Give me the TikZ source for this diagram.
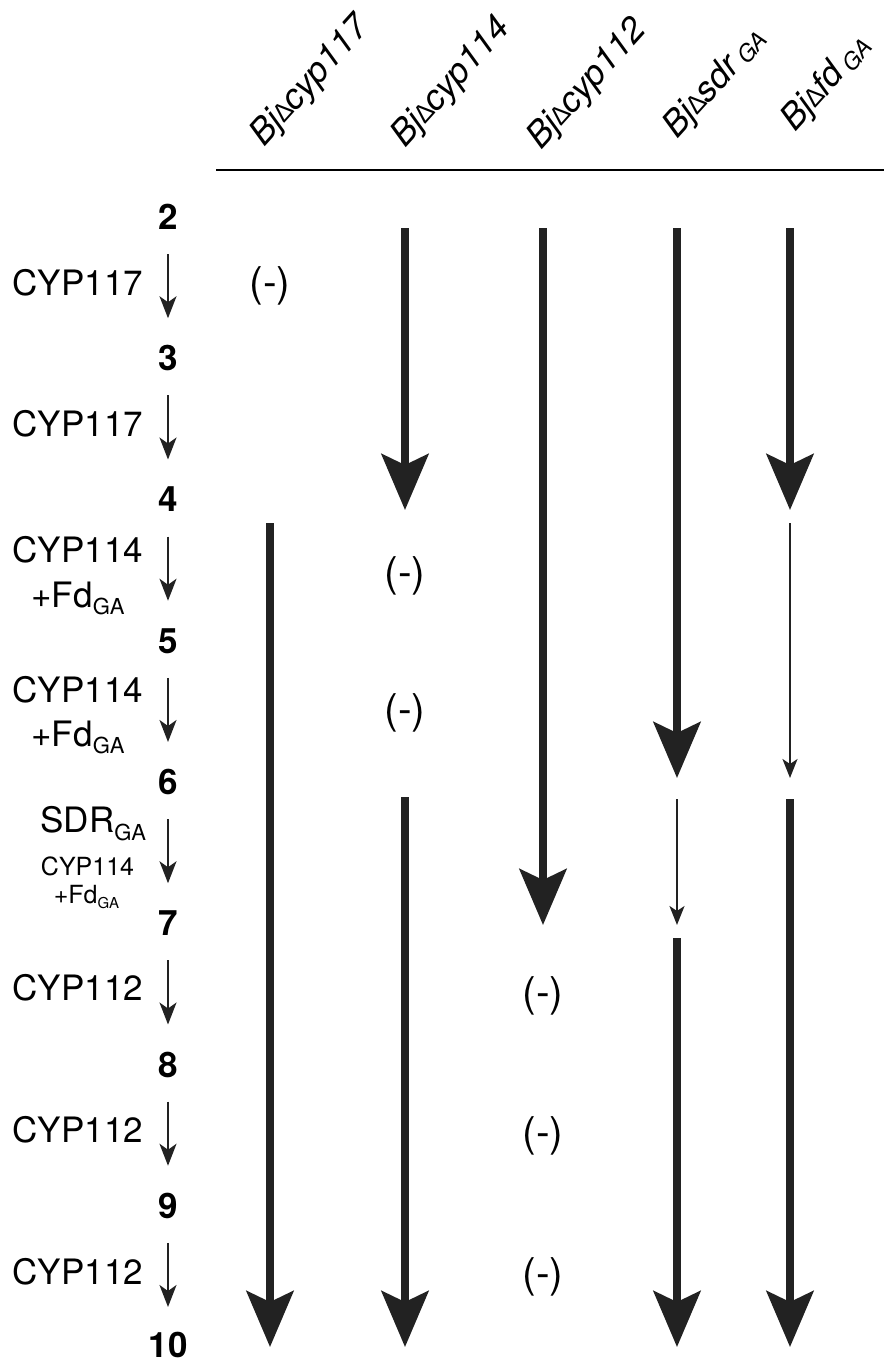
\documentclass[tikz,border=0pt]{standalone}
\usepackage{fontspec}
\setmainfont{TeX Gyre Heros}
\newfontfamily\libsans{Liberation Sans}
\usetikzlibrary{arrows.meta}
\definecolor{ink}{HTML}{222222}
\newcommand{\dlt}{{\libsans\fontsize{26}{26}\selectfont ∆}}
\newcommand{\gasub}[2]{\raisebox{#2}{\fontsize{#1}{#1}\selectfont GA}}
\begin{document}
\begin{tikzpicture}[x=1pt,y=-1pt,
  every node/.style={inner sep=0pt, outer sep=0pt, text=black},
  lbl/.style={font=\fontsize{35}{41}\selectfont},
  num/.style={font=\fontsize{35}{41}\selectfont\bfseries},
  smalllbl/.style={font=\fontsize{25}{30}\selectfont},
  hdr/.style={font=\fontsize{35}{41}\selectfont\itshape, anchor=base west, rotate=48},
  neg/.style={font=\fontsize{41}{48}\selectfont},
  leftarr/.style={draw=ink, line width=2pt, -{Stealth[length=22pt,width=17pt,inset=6pt]}},
  bigarr/.style={draw=ink, line width=7.5pt, -{Stealth[length=56pt,width=47pt,inset=11pt]}},
  thinarr/.style={draw=ink, line width=2.3pt, -{Stealth[length=19pt,width=15pt,inset=5pt]}},
]
\useasboundingbox (0,0) rectangle (884,1363);

% header
\node[hdr] (h1) at (264,147) {Bj\dlt cyp117};
\node[hdr] (h2) at (405,148) {Bj\dlt cyp114};
\node[hdr] (h3) at (541,150) {Bj\dlt cyp112};
\node[hdr] (h4) at (677,139) {Bj\dlt sdr\,\gasub{23}{-3pt}};
\node[hdr] (h5) at (795,132) {Bj\dlt fd\,\gasub{23}{-3pt}};
\coordinate (hl) at (216,170);
\coordinate (hr) at (884,170);
\draw[line width=2.5pt] (hl) -- (hr);

% compound numbers
\node[num] (n2) at (168,217) {2};
\node[num] (n3) at (168,358.25) {3};
\node[num] (n4) at (168,499.5) {4};
\node[num] (n5) at (168,640.75) {5};
\node[num] (n6) at (168,782) {6};
\node[num] (n7) at (168,923.25) {7};
\node[num] (n8) at (168,1064.5) {8};
\node[num] (n9) at (168,1205.75) {9};
\node[num] (n10) at (168,1345) {10};

% left pathway arrows
\draw[leftarr] ([yshift=-37pt]n2.center) -- ([yshift=40pt]n3.center);
\draw[leftarr] ([yshift=-37pt]n3.center) -- ([yshift=40pt]n4.center);
\draw[leftarr] ([yshift=-37pt]n4.center) -- ([yshift=40pt]n5.center);
\draw[leftarr] ([yshift=-37pt]n5.center) -- ([yshift=40pt]n6.center);
\draw[leftarr] ([yshift=-37pt]n6.center) -- ([yshift=40pt]n7.center);
\draw[leftarr] ([yshift=-37pt]n7.center) -- ([yshift=40pt]n8.center);
\draw[leftarr] ([yshift=-37pt]n8.center) -- ([yshift=40pt]n9.center);
\draw[leftarr] ([yshift=-37pt]n9.center) -- ([yshift=38pt]n10.center);

% enzyme labels
\node[lbl, anchor=base east] (e1) at (143,295) {CYP117};
\node[lbl, anchor=base east] (e2) at (143,436.5) {CYP117};
\node[lbl, anchor=base east] (e3) at (143,562) {CYP114};
\node[lbl, anchor=base] (e3b) at (78,607) {+Fd\gasub{22}{-7pt}};
\node[lbl, anchor=base east] (e4) at (143,702) {CYP114};
\node[lbl, anchor=base] (e4b) at (78,746) {+Fd\gasub{22}{-7pt}};
\node[lbl, anchor=base east] (e5) at (146,832) {SDR\gasub{22}{-8pt}};
\node[smalllbl, anchor=base] (e5b) at (87.5,875) {CYP114};
\node[smalllbl, anchor=base] (e5c) at (86.5,903) {+Fd\gasub{15}{-5pt}};
\node[lbl, anchor=base east] (e6) at (143,1000) {CYP112};
\node[lbl, anchor=base east] (e7) at (143,1142) {CYP112};
\node[lbl, anchor=base east] (e8) at (143,1284) {CYP112};

% no conversion marks
\node[neg] (m1) at (270,286) {(-)};
\node[neg] (m2) at (405,576) {(-)};
\node[neg] (m3) at (405,713) {(-)};
\node[neg] (m4) at (543,996) {(-)};
\node[neg] (m5) at (543,1136) {(-)};
\node[neg] (m6) at (543,1277) {(-)};

% column coordinates
\coordinate (a1s) at (270,523); \coordinate (a1e) at (270,1347);
\coordinate (a2s) at (405,228); \coordinate (a2e) at (405,510);
\coordinate (a2t) at (405,797); \coordinate (a2u) at (405,1347);
\coordinate (a3s) at (543,228); \coordinate (a3e) at (543,925);
\coordinate (a4s) at (677,228); \coordinate (a4e) at (677,778);
\coordinate (a4t) at (677,799); \coordinate (a4u) at (677,925);
\coordinate (a4v) at (677,938); \coordinate (a4w) at (677,1347);
\coordinate (a5s) at (790,228); \coordinate (a5e) at (790,510);
\coordinate (a5t) at (790,523); \coordinate (a5u) at (790,778);
\coordinate (a5v) at (790,799); \coordinate (a5w) at (790,1347);

\draw[bigarr] (a1s) -- (a1e);
\draw[bigarr] (a2s) -- (a2e);
\draw[bigarr] (a2t) -- (a2u);
\draw[bigarr] (a3s) -- (a3e);
\draw[bigarr] (a4s) -- (a4e);
\draw[thinarr] (a4t) -- (a4u);
\draw[bigarr] (a4v) -- (a4w);
\draw[bigarr] (a5s) -- (a5e);
\draw[thinarr] (a5t) -- (a5u);
\draw[bigarr] (a5v) -- (a5w);
\end{tikzpicture}
\end{document}
